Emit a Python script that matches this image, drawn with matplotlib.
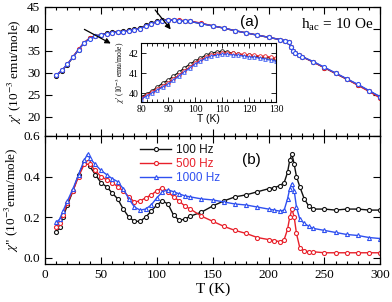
import matplotlib
matplotlib.use("Agg")
import matplotlib.pyplot as plt
from matplotlib.ticker import MultipleLocator

# ---- data ----
# (a) real part chi' vs T
T_a = [10, 15, 20, 25, 30, 35, 40, 45, 50, 55, 60, 65, 70, 75, 80, 85, 90, 95,
       100, 105, 110, 115, 120, 125, 130, 140, 150, 160, 170, 180, 190, 200,
       210, 215, 218, 220, 222, 224, 227, 230, 240, 250, 260, 270, 280, 290, 300]
chi1_100 = [29.4, 30.5, 31.9, 33.6, 35.3, 36.9, 37.9, 38.4, 38.7, 39.0, 39.2, 39.4,
            39.5, 39.7, 39.9, 40.2, 40.8, 41.3, 41.7, 42.0, 42.1, 42.0, 41.9, 41.8,
            41.7, 41.2, 40.7, 40.2, 39.6, 39.1, 38.6, 38.1, 37.6, 37.3, 37.0, 36.0,
            35.0, 34.5, 34.1, 33.7, 32.5, 31.2, 29.9, 28.6, 27.3, 25.9, 24.5]
chi1_500 = [29.5, 30.6, 32.0, 33.7, 35.4, 36.9, 37.9, 38.3, 38.6, 38.9, 39.1, 39.3,
            39.4, 39.6, 39.8, 40.1, 40.6, 41.1, 41.6, 41.9, 42.0, 42.0, 42.0, 41.9,
            41.8, 41.3, 40.7, 40.2, 39.6, 39.1, 38.6, 38.1, 37.6, 37.3, 37.0, 36.0,
            35.0, 34.5, 34.1, 33.7, 32.5, 31.2, 29.9, 28.6, 27.2, 25.8, 24.3]
chi1_1000 = [29.5, 30.6, 32.0, 33.6, 35.3, 36.8, 37.8, 38.3, 38.6, 38.9, 39.1, 39.3,
             39.4, 39.6, 39.8, 40.1, 40.6, 41.1, 41.6, 41.9, 42.0, 42.0, 41.9, 41.8,
             41.7, 41.2, 40.7, 40.2, 39.6, 39.1, 38.6, 38.1, 37.6, 37.3, 37.0, 36.0,
             35.0, 34.5, 34.1, 33.7, 32.6, 31.3, 30.0, 28.7, 27.4, 26.0, 24.6]

# inset, 80-130 K
T_in = [80, 82, 84, 86, 88, 90, 92, 94, 96, 98, 100, 102, 104, 106, 108, 110,
        112, 114, 116, 118, 120, 122, 124, 126, 128, 130]
ins_100 = [39.8, 39.95, 40.1, 40.3, 40.5, 40.65, 40.85, 41.05, 41.25, 41.45, 41.6,
           41.75, 41.9, 42.0, 42.05, 42.1, 42.05, 42.0, 41.95, 41.9, 41.9, 41.85,
           41.8, 41.8, 41.75, 41.7]
ins_500 = [39.75, 39.9, 40.05, 40.2, 40.35, 40.5, 40.7, 40.9, 41.1, 41.3, 41.5,
           41.65, 41.8, 41.9, 41.95, 42.0, 42.0, 42.0, 41.95, 41.95, 41.9, 41.9,
           41.85, 41.85, 41.8, 41.75]
ins_1000 = [39.7, 39.85, 40.0, 40.15, 40.3, 40.45, 40.65, 40.85, 41.05, 41.25, 41.45,
            41.6, 41.75, 41.85, 41.9, 41.95, 41.95, 41.9, 41.9, 41.85, 41.8, 41.8,
            41.75, 41.7, 41.65, 41.6]

# (b) imaginary part chi'' vs T
T_b = [10, 13, 16, 20, 25, 30, 35, 38, 40, 45, 50, 55, 60, 65, 70, 75, 80, 85, 90,
       95, 100, 105, 110, 115, 120, 125, 130, 140, 150, 160, 170, 180, 190, 200,
       205, 210, 214, 217, 219, 221, 223, 225, 228, 232, 236, 240, 250, 260, 270,
       280, 290, 300]
chi2_100 = [0.125, 0.15, 0.20, 0.26, 0.33, 0.41, 0.47, 0.47, 0.45, 0.41, 0.37, 0.35,
            0.32, 0.29, 0.24, 0.20, 0.18, 0.18, 0.20, 0.23, 0.26, 0.28, 0.265, 0.21,
            0.185, 0.19, 0.205, 0.225, 0.255, 0.28, 0.30, 0.31, 0.325, 0.34, 0.345,
            0.355, 0.37, 0.42, 0.48, 0.51, 0.46, 0.40, 0.35, 0.29, 0.255, 0.24, 0.24,
            0.235, 0.24, 0.24, 0.235, 0.235]
chi2_500 = [0.15, 0.17, 0.21, 0.27, 0.33, 0.40, 0.46, 0.47, 0.46, 0.43, 0.40, 0.385,
            0.37, 0.35, 0.33, 0.30, 0.275, 0.28, 0.295, 0.31, 0.33, 0.345, 0.325, 0.30,
            0.28, 0.255, 0.24, 0.205, 0.18, 0.155, 0.135, 0.12, 0.10, 0.09, 0.085,
            0.08, 0.09, 0.14, 0.20, 0.24, 0.20, 0.12, 0.05, 0.035, 0.03, 0.03, 0.025,
            0.025, 0.025, 0.025, 0.025, 0.025]
chi2_1000 = [0.175, 0.19, 0.23, 0.28, 0.34, 0.41, 0.48, 0.51, 0.49, 0.46, 0.43, 0.41,
             0.39, 0.375, 0.34, 0.29, 0.25, 0.235, 0.24, 0.26, 0.295, 0.325, 0.335,
             0.325, 0.315, 0.305, 0.30, 0.29, 0.285, 0.275, 0.265, 0.26, 0.25, 0.24,
             0.235, 0.23, 0.235, 0.29, 0.34, 0.365, 0.33, 0.25, 0.19, 0.17, 0.155,
             0.145, 0.135, 0.125, 0.115, 0.11, 0.10, 0.095]

freqs = ["100 Hz", "500 Hz", "1000 Hz"]
colors = ["#111111", "#e8202a", "#2f50f0"]
markers = ["o", "o", "^"]

plt.rcParams["font.family"] = ["Liberation Serif", "DejaVu Serif"]
plt.rcParams["mathtext.fontset"] = "stix"

fig = plt.figure(figsize=(3.92, 3.02), dpi=100)
ax1 = fig.add_axes([0.115, 0.55, 0.855, 0.427])
ax2 = fig.add_axes([0.115, 0.126, 0.855, 0.424])


def style(ax):
    ax.tick_params(which="both", direction="in", top=True, right=True,
                   labelsize=9.5, width=0.8)
    ax.tick_params(which="major", length=5)
    ax.tick_params(which="minor", length=2.5)
    for s in ax.spines.values():
        s.set_linewidth(0.9)


# top panel
for y, c in zip([chi1_100, chi1_500, chi1_1000], colors):
    ax1.plot(T_a, y, color=c, lw=1.0, marker="o", ms=2.9, mfc="white",
             mec=c, mew=0.8)
ax1.set_xlim(0, 300)
ax1.set_ylim(15.7, 45)
ax1.xaxis.set_major_locator(MultipleLocator(50))
ax1.xaxis.set_minor_locator(MultipleLocator(10))
ax1.yaxis.set_major_locator(MultipleLocator(5))
ax1.set_xticklabels([])
style(ax1)
ax1.set_ylabel(r"$\chi$' (10$^{-3}$ emu/mole)", fontsize=9.5, labelpad=2)
ax1.text(183, 41.6, "(a)", fontsize=11, ha="center", va="center",
         family=["Liberation Sans", "DejaVu Sans"])
ax1.text(229, 40.8, r"h$_{\mathregular{ac}}$ = 10 Oe", fontsize=11,
         ha="left", va="center")
arrow = dict(arrowstyle="-|>", color="k", lw=0.9, mutation_scale=8)
ax1.annotate("", xy=(61, 36.4), xytext=(33, 40.2), arrowprops=arrow)
ax1.annotate("", xy=(114, 39.4), xytext=(97, 44.8), arrowprops=arrow)

# inset
axi = fig.add_axes([0.36, 0.662, 0.344, 0.195])
for y, c, m in zip([ins_100, ins_500, ins_1000], colors, markers):
    axi.plot(T_in, y, color=c, lw=0.9, marker=m, ms=2.6, mfc="white",
             mec=c, mew=0.6)
axi.set_xlim(80, 130)
axi.set_ylim(39.55, 42.5)
axi.xaxis.set_major_locator(MultipleLocator(10))
axi.xaxis.set_minor_locator(MultipleLocator(2))
axi.yaxis.set_major_locator(MultipleLocator(1))
axi.tick_params(which="both", direction="in", top=True, right=True,
                labelsize=7, width=0.6, pad=2)
axi.tick_params(which="major", length=3.5)
axi.tick_params(which="minor", length=2)
axi.set_xlabel("T (K)", fontsize=7.5, labelpad=0,
               family=["Liberation Sans", "DejaVu Sans"])
axi.set_ylabel(r"$\chi$' (10$^{-3}$ emu/mole)", fontsize=5.5, labelpad=1)

# bottom panel
for y, c, m, lab in zip([chi2_100, chi2_500, chi2_1000], colors, markers, freqs):
    ax2.plot(T_b, y, color=c, lw=1.0, marker=m, ms=2.9, mfc="white",
             mec=c, mew=0.8, label=lab)
ax2.set_xlim(0, 300)
ax2.set_ylim(-0.03, 0.6)
ax2.xaxis.set_major_locator(MultipleLocator(50))
ax2.xaxis.set_minor_locator(MultipleLocator(10))
ax2.yaxis.set_major_locator(MultipleLocator(0.2))
ax2.yaxis.set_major_formatter(plt.FormatStrFormatter("%.1f"))
style(ax2)
ax2.set_ylabel(r'$\chi$" (10$^{-3}$emu/mole)', fontsize=9.5, labelpad=2)
ax2.set_xlabel("T (K)", fontsize=11, labelpad=1)
ax2.text(185, 0.48, "(b)", fontsize=11, ha="center", va="center",
         family=["Liberation Sans", "DejaVu Sans"])
leg = ax2.legend(loc="upper left", bbox_to_anchor=(0.26, 1.0), frameon=False,
                 handlelength=2.6, handletextpad=0.4, labelspacing=0.15,
                 borderaxespad=0.3,
                 prop={"family": ["Liberation Sans", "DejaVu Sans"], "size": 8.5})
for t, c in zip(leg.get_texts(), colors):
    t.set_color(c)

fig.savefig("out.png", dpi=100)
